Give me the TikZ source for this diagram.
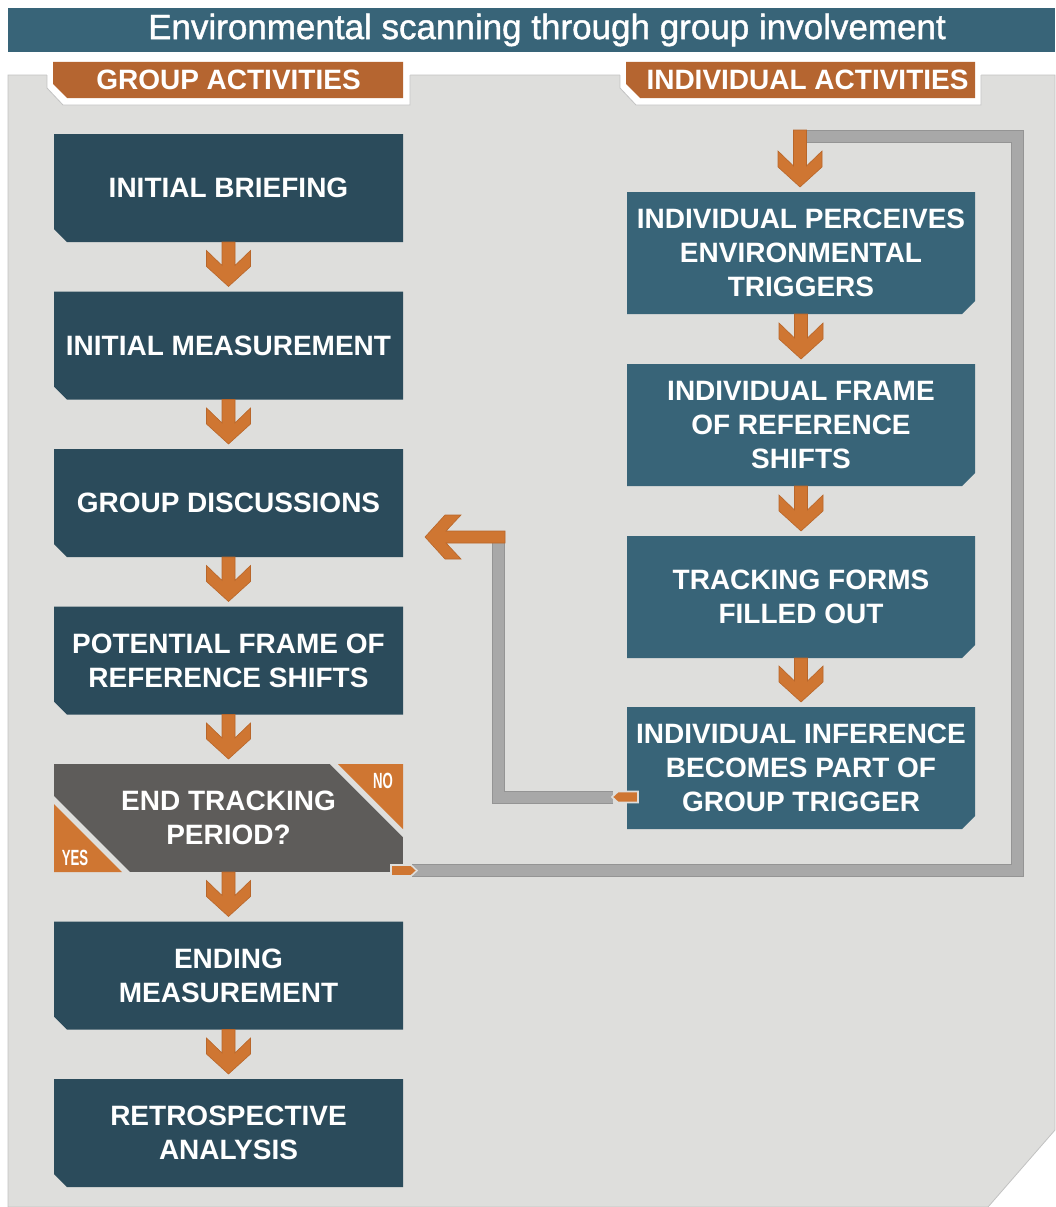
\documentclass[tikz,border=0pt]{standalone}
\usepackage{fontspec}
\setmainfont{Liberation Sans}
\usetikzlibrary{calc,backgrounds}

\definecolor{panel}{HTML}{DEDEDC}
\definecolor{panelline}{HTML}{C2C2C2}
\definecolor{titlec}{HTML}{386478}
\definecolor{grpc}{HTML}{2B4B5B}
\definecolor{indc}{HTML}{386478}
\definecolor{decc}{HTML}{5E5C5A}
\definecolor{tabc}{HTML}{B56530}
\definecolor{arrc}{HTML}{CF7632}
\definecolor{arredge}{HTML}{B8662A}
\definecolor{bandc}{HTML}{A8A8A8}
\definecolor{bandedge}{HTML}{949494}

\newcommand\boxfont{\fontsize{28}{34}\selectfont\bfseries}
\newcommand\tagfont{\fontsize{22}{22}\selectfont\bfseries}
\newcommand\titlefont{\fontsize{35}{35}\selectfont\addfontfeature{FakeBold=1.2}}

% downward flow arrow: shaft top, tip
\newcommand\flowdown[2]{%
  \filldraw[fill=arrc, draw=arredge, line width=0.6pt] let \p1=#1, \p2=#2 in
   (\x1-6.5pt,\y1) -- (\x1+6.5pt,\y1) -- (\x1+6.5pt,\y2+21pt) -- (\x1+22pt,\y2+36pt)
   -- (\x1+22pt,\y2+20pt) -- (\x1,\y2) -- (\x1-22pt,\y2+20pt) -- (\x1-22pt,\y2+36pt)
   -- (\x1-6.5pt,\y2+21pt) -- cycle;}
% leftward flow arrow: shaft end, tip
\newcommand\flowleft[2]{%
  \filldraw[fill=arrc, draw=arredge, line width=0.6pt] let \p1=#1, \p2=#2 in
   (\x1,\y1+6pt) -- (\x2+21pt,\y1+6pt) -- (\x2+36pt,\y1+22pt) -- (\x2+20pt,\y1+22pt)
   -- (\x2,\y1) -- (\x2+20pt,\y1-22pt) -- (\x2+36pt,\y1-22pt) -- (\x2+21pt,\y1-6pt)
   -- (\x1,\y1-6pt) -- cycle;}
% box with a cut lower-left corner
\newcommand\grpshape[1]{%
  \fill[grpc] (#1.north west) -- (#1.north east) -- (#1.south east)
    -- ([xshift=13pt]#1.south west) -- ([yshift=13pt]#1.south west) -- cycle;}
% box with a cut lower-right corner
\newcommand\indshape[1]{%
  \fill[indc] (#1.north west) -- (#1.north east) -- ([yshift=13pt]#1.south east)
    -- ([xshift=-13pt]#1.south east) -- (#1.south west) -- cycle;}

\tikzset{
  grpbox/.style={rectangle, minimum width=349pt, minimum height=108pt, inner sep=0pt,
    outer sep=0pt, text=white, font=\boxfont, align=center},
  indbox/.style={rectangle, minimum width=348pt, minimum height=122pt, inner sep=0pt,
    outer sep=0pt, text=white, font=\boxfont, align=center},
  tablabel/.style={text=white, font=\boxfont, inner sep=0pt},
  tagtext/.style={text=white, inner sep=0pt},
  band/.style={draw=bandedge, line width=13pt, line join=miter,
    postaction={draw=bandc, line width=11pt, line join=miter}},
  stub/.style={fill=arrc, draw=panel, line width=1.6pt},
}

\begin{document}
\begin{tikzpicture}[x=1pt, y=-1pt]
\useasboundingbox (0,0) rectangle (1055,1207);

% title bar
\fill[titlec] (8,8) rectangle (1055,52);
\node[text=white, font=\titlefont, inner sep=0pt] (title) at (547,30)
  {Environmental scanning through group involvement};

% column headings
\node[tablabel] (tabg) at (228.5,80) {GROUP ACTIVITIES};
\node[tablabel] (tabi) at (807.5,80) {INDIVIDUAL ACTIVITIES};

% group activities
\node[grpbox] (b1) at (228.5,188) {INITIAL BRIEFING};
\node[grpbox] (b2) at (228.5,345.5) {INITIAL MEASUREMENT};
\node[grpbox] (b3) at (228.5,503) {GROUP DISCUSSIONS};
\node[grpbox] (b4) at (228.5,660.5) {POTENTIAL FRAME OF\\REFERENCE SHIFTS};
\node[grpbox] (dec) at (228.5,818) {END TRACKING\\PERIOD?};
\node[grpbox] (b6) at (228.5,975.5) {ENDING\\MEASUREMENT};
\node[grpbox] (b7) at (228.5,1133) {RETROSPECTIVE\\ANALYSIS};

% individual activities
\node[indbox] (r1) at (801,253) {INDIVIDUAL PERCEIVES\\ENVIRONMENTAL\\TRIGGERS};
\node[indbox] (r2) at (801,425) {INDIVIDUAL FRAME\\OF REFERENCE\\SHIFTS};
\node[indbox] (r3) at (801,597) {TRACKING FORMS\\FILLED OUT};
\node[indbox] (r4) at (801,768) {INDIVIDUAL INFERENCE\\BECOMES PART OF\\GROUP TRIGGER};

\begin{scope}[on background layer]
  % panel
  \filldraw[fill=panel, draw=panelline, line width=0.8pt]
    (8,75) -- (1055,75) -- (1055,1130) -- (988,1207) -- (8,1207) -- cycle;
  % white margins round the heading tabs
  \fill[white] (47,57) -- (410,57) -- (410,105) -- (63,105) -- (47,88) -- cycle;
  \draw[panelline, line width=0.8pt] (47,75) -- (47,88) -- (63,105) -- (410,105) -- (410,75);
  \fill[white] (620,57) -- (981,57) -- (981,105) -- (636,105) -- (620,88) -- cycle;
  \draw[panelline, line width=0.8pt] (620,75) -- (620,88) -- (636,105) -- (981,105) -- (981,75);
  % heading tabs
  \fill[tabc] (53,62) -- (403,62) -- (403,98) -- (67,98) -- (53,84) -- cycle;
  \fill[tabc] (626,62) -- (975,62) -- (975,98) -- (640,98) -- (626,84) -- cycle;
  % boxes
  \grpshape{b1} \grpshape{b2} \grpshape{b3} \grpshape{b4} \grpshape{b6} \grpshape{b7}
  \indshape{r1} \indshape{r2} \indshape{r3} \indshape{r4}
  % decision box with its two answer corners
  \fill[decc] (dec.north west) rectangle (dec.south east);
  \fill[panel] (dec.south west) -- ([yshift=76pt]dec.south west) -- ([xshift=76pt]dec.south west) -- cycle;
  \fill[arrc] (dec.south west) -- ([yshift=68pt]dec.south west) -- ([xshift=68pt]dec.south west) -- cycle;
  \fill[panel] (dec.north east) -- ([xshift=-73pt]dec.north east) -- ([yshift=-73pt]dec.north east) -- cycle;
  \fill[arrc] (dec.north east) -- ([xshift=-65pt]dec.north east) -- ([yshift=-65pt]dec.north east) -- cycle;
\end{scope}

\node[tagtext] (no) at (383,781) {\scalebox{0.6}[1]{\tagfont NO}};
\node[tagtext] (yes) at (75,858) {\scalebox{0.6}[1]{\tagfont YES}};

% return loops
\coordinate (s1) at (412,870.5);
\coordinate (c1) at (1017.5,870.5);
\coordinate (c2) at (1017.5,136.5);
\coordinate (c3) at (793.5,136.5);
\coordinate (in1) at (800,130);
\draw[band] (s1) -- (c1) -- (c2) -- (c3);

\coordinate (s2) at (613,797);
\coordinate (c4) at (498.5,797);
\coordinate (c5) at (498.5,537);
\coordinate (in2) at (505,537);
\coordinate (tip2) at (425,537);
\draw[band] (s2) -- (c4) -- (c5);

\filldraw[stub] (391,865) -- (411,865) -- (417,870.5) -- (411,876) -- (391,876) -- cycle;
\filldraw[stub] (638,791.5) -- (618,791.5) -- (612,797) -- (618,802.5) -- (638,802.5) -- cycle;

% flow arrows
\flowdown{(b1.south)}{($(b2.north)+(0,-5)$)}
\flowdown{(b2.south)}{($(b3.north)+(0,-5)$)}
\flowdown{(b3.south)}{($(b4.north)+(0,-5)$)}
\flowdown{(b4.south)}{($(dec.north)+(0,-5)$)}
\flowdown{(dec.south)}{($(b6.north)+(0,-5)$)}
\flowdown{(b6.south)}{($(b7.north)+(0,-5)$)}
\flowdown{(in1)}{($(r1.north)+(0,-5)$)}
\flowdown{(r1.south)}{($(r2.north)+(0,-5)$)}
\flowdown{(r2.south)}{($(r3.north)+(0,-5)$)}
\flowdown{(r3.south)}{($(r4.north)+(0,-5)$)}
\flowleft{(in2)}{(tip2)}
\end{tikzpicture}
\end{document}
